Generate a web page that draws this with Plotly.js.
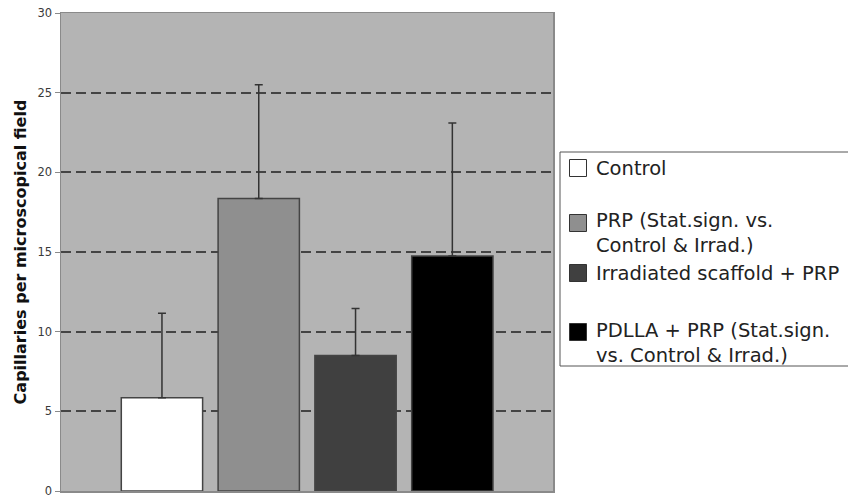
<!DOCTYPE html>
<html>
<head>
<meta charset="utf-8">
<script src="https://cdn.plot.ly/plotly-3.0.1.min.js"></script>
<style>html,body{margin:0;padding:0;background:#fff;}#chart{width:848px;height:499px;}</style>
</head>
<body>
<div id="chart"></div>
<script>
// Data
const groupNames = [
  "Control",
  "PRP (Stat.sign. vs. Control & Irrad.)",
  "Irradiated scaffold + PRP",
  "PDLLA + PRP (Stat.sign. vs. Control & Irrad.)"
];
const legendLabels = [
  "Control",
  "PRP (Stat.sign. vs.<br>Control & Irrad.)",
  "Irradiated scaffold + PRP",
  "PDLLA + PRP (Stat.sign.<br>vs. Control & Irrad.)"
];
const groupValues = [5.85, 18.35, 8.5, 14.75];
const groupErrorsUp = [5.3, 7.15, 2.95, 8.35];
const groupColors = ["#ffffff", "#8f8f8f", "#404040", "#000000"];
const yTickValues = [0, 5, 10, 15, 20, 25, 30];
const yTitle = "Capillaries per microscopical field";

// plot area geometry (pixels)
const W = 848, H = 499;
const M = { l: 61, r: 295, t: 13, b: 8 };
const PW = W - M.l - M.r, PH = H - M.t - M.b;
const px = x => (x - M.l) / PW;            // pixel x -> paper x
const py = y => (H - M.b - y) / PH;         // pixel y -> paper y

const traces = groupNames.map((name, i) => ({
  type: "bar",
  x: [i],
  y: [groupValues[i]],
  name: name,
  width: 0.84,
  marker: { color: groupColors[i], line: { color: "#444444", width: 1.5 } },
  error_y: {
    type: "data", symmetric: false,
    array: [groupErrorsUp[i]], arrayminus: [0],
    color: "#333333", thickness: 1.5, width: 4
  },
  showlegend: false,
  hoverinfo: "y"
}));

// Legend drawn as a box + swatches + text (matching the reference's spacing)
const legendFont = 19.5;
const legendBox = { x0: 560, x1: 870, y0: 152, y1: 366 };
const legendFirstLineY = [168, 223, 273, 332];
const refLineGap = 21;
const swatchX = 578, swatchSize = 17, textX = 595;

const shapes = [{
  type: "rect", xref: "paper", yref: "paper", layer: "above",
  x0: px(legendBox.x0), x1: px(legendBox.x1), y0: py(legendBox.y1), y1: py(legendBox.y0),
  fillcolor: "#ffffff", line: { color: "#555555", width: 1 }
}];
const annotations = [];
legendLabels.forEach((label, i) => {
  const cy = legendFirstLineY[i];
  const nLines = label.split("<br>").length;
  shapes.push({
    type: "rect", xref: "paper", yref: "paper", layer: "above",
    x0: px(swatchX - swatchSize / 2), x1: px(swatchX + swatchSize / 2),
    y0: py(cy + swatchSize / 2), y1: py(cy - swatchSize / 2),
    fillcolor: groupColors[i], line: { color: "#333333", width: 1 }
  });
  annotations.push({
    xref: "paper", yref: "paper",
    x: px(textX), y: py(cy + (nLines - 1) * refLineGap / 2),
    xanchor: "left", yanchor: "middle", align: "left",
    text: label, showarrow: false, borderpad: 0,
    font: { family: "DejaVu Sans", size: legendFont, color: "#222222" }
  });
});

const layout = {
  width: W, height: H,
  margin: M,
  paper_bgcolor: "#ffffff",
  plot_bgcolor: "#b4b4b4",
  showlegend: false,
  barmode: "overlay",
  xaxis: {
    range: [-1.043, 4.04],
    showticklabels: false, showgrid: false, zeroline: false,
    ticks: "", showline: true, mirror: true, linecolor: "#8a8a8a", linewidth: 1.5,
    fixedrange: true
  },
  yaxis: {
    range: [0, 30],
    tickvals: yTickValues,
    ticktext: yTickValues.map(String),
    ticks: "outside", ticklen: 5, tickcolor: "#8a8a8a", tickwidth: 1,
    ticklabeloverflow: "allow",
    tickfont: { family: "DejaVu Sans", size: 11.5, color: "#3a3a3a" },
    showgrid: true, gridcolor: "#444444", gridwidth: 2, griddash: "10px,5px",
    zeroline: false,
    showline: true, mirror: true, linecolor: "#8a8a8a", linewidth: 1.5,
    title: { text: yTitle, font: { family: "DejaVu Sans", size: 16, color: "#111111", weight: "bold" }, standoff: 7 },
    fixedrange: true
  },
  shapes: shapes,
  annotations: annotations
};

Plotly.newPlot("chart", traces, layout, { displayModeBar: false, staticPlot: true });
</script>
</body>
</html>
